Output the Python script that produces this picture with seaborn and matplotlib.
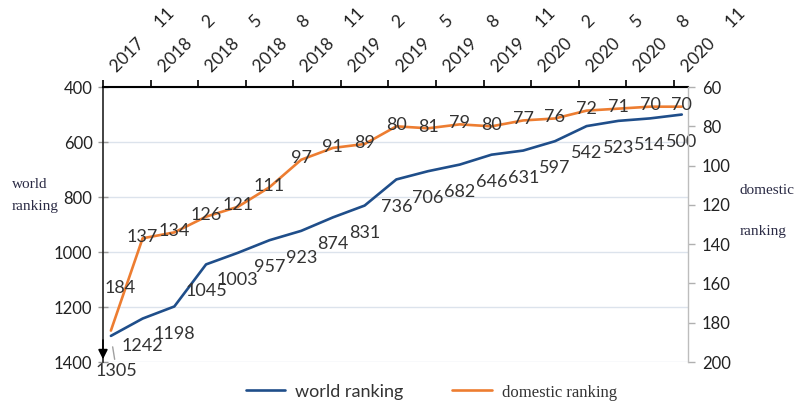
import matplotlib
matplotlib.use("Agg")
import matplotlib.pyplot as plt
import matplotlib.transforms as mtransforms
import seaborn as sns
import numpy as np
import pandas as pd

# ---- data ----
periods = ["2017-11", "2018-01", "2018-03", "2018-05", "2018-07", "2018-09", "2018-11",
           "2019-01", "2019-03", "2019-05", "2019-07", "2019-09", "2019-11",
           "2020-01", "2020-03", "2020-05", "2020-07", "2020-09", "2020-11"]
world_ranking = [1305, 1242, 1198, 1045, 1003, 957, 923, 874, 831, 736, 706, 682,
                 646, 631, 597, 542, 523, 514, 500]
domestic_ranking = [184, 137, 134, 126, 121, 111, 97, 91, 89, 80, 81, 79,
                    80, 77, 76, 72, 71, 70, 70]
tick_years = ["2017", "2018", "2018", "2018", "2018", "2019", "2019", "2019", "2019",
              "2020", "2020", "2020", "2020"]
tick_months = ["11", "2", "5", "8", "11", "2", "5", "8", "11", "2", "5", "8", "11"]
tick_labels = [f"{y}     {m}" for y, m in zip(tick_years, tick_months)]

df = pd.DataFrame({"idx": np.arange(len(periods)), "period": periods,
                   "world": world_ranking, "domestic": domestic_ranking})

BLUE = "#1f4e8a"
ORANGE = "#ed7d31"

sns.set_theme(style="white")
plt.rcParams["font.family"] = ["Lato", "DejaVu Sans"]

fig = plt.figure(figsize=(8.02, 4.03), dpi=100)
ax = fig.add_axes([0.1284, 0.1017, 0.7296, 0.6823])
ax2 = ax.twinx()

sns.lineplot(data=df, x="idx", y="world", ax=ax, color=BLUE, linewidth=1.9,
             label="world ranking", legend=False)
sns.lineplot(data=df, x="idx", y="domestic", ax=ax2, color=ORANGE, linewidth=1.9,
             label="domestic ranking", legend=False)

# axes ranges
ax.set_xlim(-0.25, 18.2)
ax.set_ylim(1400, 400)
ax2.set_ylim(200, 60)
ax.set_yticks(np.arange(400, 1401, 200))
ax2.set_yticks(np.arange(60, 201, 20))

# grid
ax.grid(axis="y", color="#dce3ec", linewidth=1.0)
ax.grid(axis="x", visible=False)
ax2.grid(False)
ax.set_axisbelow(True)

# x ticks on top
ntk = len(tick_labels)
ax.set_xticks(-0.25 + 1.5 * np.arange(ntk))
ax.xaxis.tick_top()
ax.set_xticklabels(tick_labels, rotation=45, ha="left", va="top",
                   rotation_mode="anchor", fontsize=12.5, color="#222222")
ax.tick_params(axis="x", which="major", top=True, bottom=False, direction="out",
               length=5, width=1.2, color="black", pad=12)
offset = mtransforms.ScaledTranslation(5 / 100, 0, fig.dpi_scale_trans)
for lbl in ax.get_xticklabels():
    lbl.set_transform(lbl.get_transform() + offset)
ax.set_xlabel("")
ax.set_ylabel("")
ax2.set_ylabel("")

ax.tick_params(axis="y", left=True, direction="inout", length=7, width=1,
               color="#9a9a9a", labelsize=12, labelcolor="#222222", pad=4)
ax2.tick_params(axis="y", right=True, direction="out", length=5, width=1,
                color="#b0b0b0", labelsize=12, labelcolor="#222222", pad=5)

# spines
for a in (ax, ax2):
    a.spines["bottom"].set_visible(False)
ax.spines["top"].set_color("black")
ax.spines["top"].set_linewidth(1.5)
ax2.spines["top"].set_visible(False)
ax.spines["left"].set_color("#222222")
ax.spines["left"].set_linewidth(1.2)
ax2.spines["left"].set_visible(False)
ax.spines["right"].set_visible(False)
ax2.spines["right"].set_color("#bdbdbd")
ax2.spines["right"].set_linewidth(1.0)

# arrow at bottom of left spine
ax.annotate("", xy=(0, 0.01), xycoords="axes fraction", xytext=(0, 0.08),
            textcoords="axes fraction",
            arrowprops=dict(arrowstyle="-|>", color="black", lw=1.2,
                            mutation_scale=14, shrinkA=0, shrinkB=0))

# data labels
for i, (x, w) in enumerate(zip(df["idx"], df["world"])):
    if i == 0:
        ax.annotate(str(w), xy=(x, w), xytext=(4, -25), textcoords="offset points",
                    ha="center", va="center", fontsize=13, color="#333333",
                    arrowprops=dict(arrowstyle="-", color="#a0a0a0", lw=1,
                                    shrinkA=0, shrinkB=8))
    else:
        ax.annotate(str(w), xy=(x, w), xytext=(0, -19.5), textcoords="offset points",
                    ha="center", va="center", fontsize=13, color="#333333")

for i, (x, d) in enumerate(zip(df["idx"], df["domestic"])):
    if i == 0:
        ax2.annotate(str(d), xy=(x, d), xytext=(7, 31), textcoords="offset points",
                     ha="center", va="center", fontsize=13, color="#333333")
    else:
        ax2.annotate(str(d), xy=(x, d), xytext=(0, 1), textcoords="offset points",
                     ha="center", va="center", fontsize=13, color="#333333")

# axis titles
SERIF = ["Liberation Serif", "DejaVu Serif"]
fig.text(12 / 802, 1 - 185 / 403, "world", fontsize=11, family=SERIF,
         color="#2a2a44", va="center", ha="left")
fig.text(12 / 802, 1 - 207 / 403, "ranking", fontsize=11, family=SERIF,
         color="#2a2a44", va="center", ha="left")
fig.text(740 / 802, 1 - 190 / 403, "domestic", fontsize=11, family=SERIF,
         color="#2a2a44", va="center", ha="left")
fig.text(740 / 802, 1 - 232 / 403, "ranking", fontsize=11, family=SERIF,
         color="#2a2a44", va="center", ha="left")

# legend
h1, l1 = ax.get_legend_handles_labels()
h2, l2 = ax2.get_legend_handles_labels()
leg = fig.legend(h1 + h2, l1 + l2, loc="center", bbox_to_anchor=(0.538, 0.027),
                 ncol=2, frameon=False, fontsize=13, handlelength=2.2,
                 columnspacing=2.7, handletextpad=0.55)
for t in leg.get_texts():
    t.set_color("#333333")
leg.get_texts()[1].set_family(SERIF)
leg.get_texts()[1].set_fontsize(12)

fig.savefig("out.png", dpi=100)
